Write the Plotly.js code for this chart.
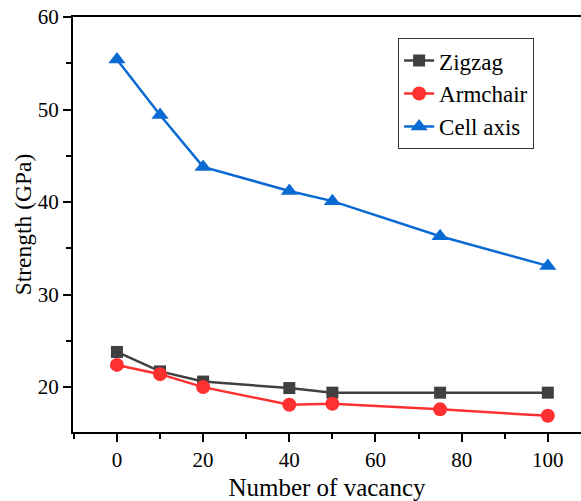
<!DOCTYPE html>
<html>
<head>
<meta charset="utf-8">
<script src="https://cdn.plot.ly/plotly-3.0.1.min.js"></script>
<style>html,body{margin:0;padding:0;background:#fff;}#chart{width:581px;height:501px;}</style>
</head>
<body>
<div id="chart"></div>
<script>
const vacancy = [0, 10, 20, 40, 50, 75, 100];
const zigzag = [23.8, 21.7, 20.6, 19.9, 19.4, 19.4, 19.4];
const armchair = [22.4, 21.4, 20.0, 18.1, 18.2, 17.6, 16.9];
const cellAxis = [55.4, 49.4, 43.8, 41.2, 40.1, 36.3, 33.1];
const seriesNames = ["Zigzag", "Armchair", "Cell axis"];

const font = "Liberation Serif";
const traces = [
  {x: vacancy, y: zigzag, name: seriesNames[0], mode: "lines+markers",
   line: {color: "#404040", width: 2.5}, marker: {symbol: "square", size: 12, color: "#404040"}},
  {x: vacancy, y: armchair, name: seriesNames[1], mode: "lines+markers",
   line: {color: "#ff3030", width: 2.5}, marker: {symbol: "circle", size: 14, color: "#ff3030"}},
  {x: vacancy, y: cellAxis, name: seriesNames[2], mode: "lines+markers",
   line: {color: "#0a6ad4", width: 2.5}, marker: {symbol: "triangle-up", size: 15, color: "#0a6ad4"}}
];

const layout = {
  width: 581, height: 501,
  margin: {l: 73, r: 0, t: 17, b: 69},
  paper_bgcolor: "#fff", plot_bgcolor: "#fff",
  font: {family: font, size: 18, color: "#000"},
  showlegend: true,
  legend: {x: 0.64, y: 0.949, xanchor: "left", yanchor: "top",
    bordercolor: "#333", borderwidth: 1, bgcolor: "#fff",
    font: {family: font, size: 23, color: "#000"}, tracegroupgap: 0},
  xaxis: {
    range: [-10.2, 107.7], tickmode: "array", tickvals: [0, 20, 40, 60, 80, 100],
    ticks: "outside", ticklen: 8, tickwidth: 2, tickcolor: "#000",
    minor: {dtick: 10, tick0: 0, ticks: "outside", ticklen: 5, tickwidth: 2, tickcolor: "#000"},
    showline: true, linewidth: 2, linecolor: "#000", mirror: true,
    showgrid: false, zeroline: false,
    tickfont: {family: font, size: 21},
    title: {text: "Number of vacancy", font: {family: font, size: 25}, standoff: 12}
  },
  yaxis: {
    range: [15.15, 60], tickmode: "array", tickvals: [20, 30, 40, 50, 60],
    ticks: "outside", ticklen: 8, tickwidth: 2, tickcolor: "#000",
    minor: {dtick: 5, tick0: 0, ticks: "outside", ticklen: 5, tickwidth: 2, tickcolor: "#000"},
    showline: true, linewidth: 2, linecolor: "#000",
    showgrid: false, zeroline: false,
    tickfont: {family: font, size: 21},
    title: {text: "Strength (GPa)", font: {family: font, size: 23.5}, standoff: 0}
  }
};

Plotly.newPlot("chart", traces, layout, {displayModeBar: false, staticPlot: true});
</script>
</body>
</html>
